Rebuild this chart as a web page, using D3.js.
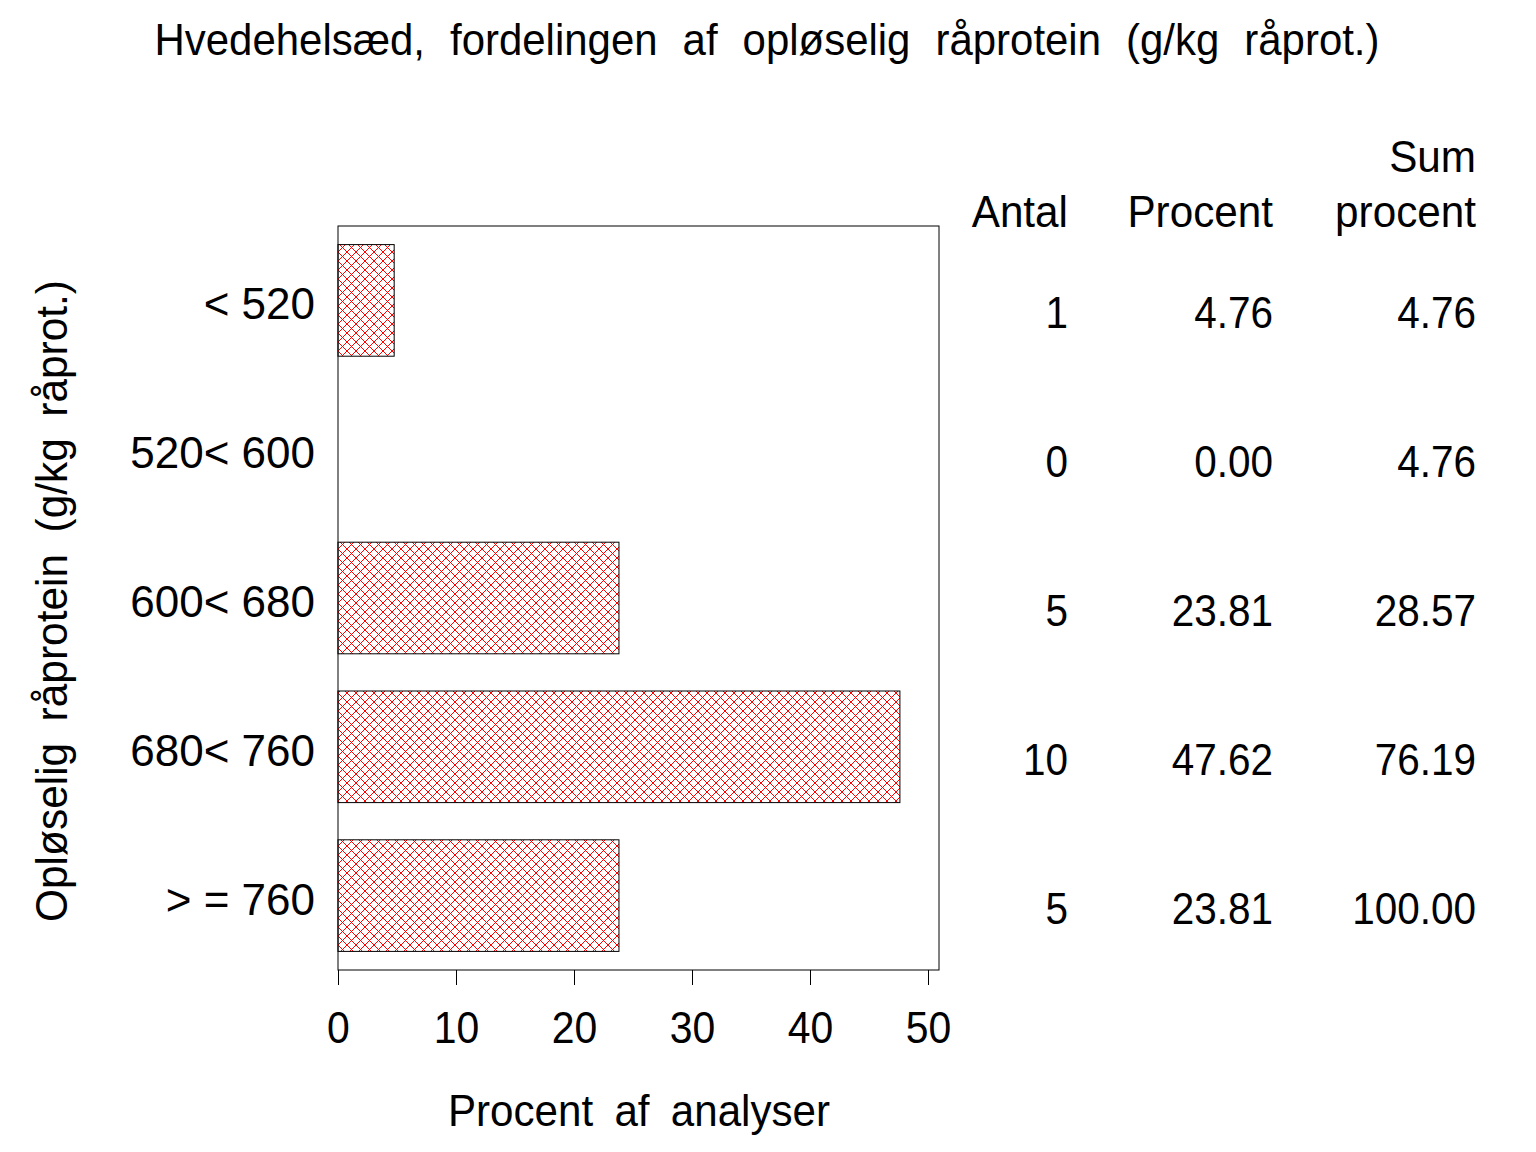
<!DOCTYPE html>
<html>
<head>
<meta charset="utf-8">
<script src="https://cdn.jsdelivr.net/npm/d3@7"></script>
<style>
	body { margin: 0; background: #fff; }
	text { font-family: "Liberation Sans", Arial, sans-serif; fill: #000; }
</style>
</head>
<body>
<svg id="chart" width="1536" height="1152"></svg>
<script>
var categories = ["< 520", "520< 600", "600< 680", "680< 760", "> = 760"];
var percent = [4.76, 0.00, 23.81, 47.62, 23.81];
var counts = [1, 0, 5, 10, 5];
var cumPercent = [4.76, 4.76, 28.57, 76.19, 100.00];
var xTicks = [0, 10, 20, 30, 40, 50];
var tableHeads = [["", "Antal"], ["", "Procent"], ["Sum", "procent"]];

var svg = d3.select("#chart");
var frame = {left: 338, right: 939, top: 226, bottom: 970};
var fontSize = 44;

// squeeze text a little, the SAS font is narrower than Arial
var squeeze = function(sel, k) {
	sel.each(function() {
		var len = this.getComputedTextLength();
		d3.select(this)
			.attr("textLength", len * k)
			.attr("lengthAdjust", "spacingAndGlyphs");
	});
};

// hatch fill, red crossed diagonals
var defs = svg.append("defs");
var pat = defs.append("pattern")
	.attr("id", "hatch")
	.attr("patternUnits", "userSpaceOnUse")
	.attr("width", 9).attr("height", 9)
	.attr("x", frame.left).attr("y", 0);
pat.append("path")
	.attr("d", "M0,0L9,9M0,9L9,0")
	.attr("stroke", "#ff0000")
	.attr("stroke-width", 1)
	.attr("fill", "none");

var x = d3.scaleLinear().domain([0, 50]).range([frame.left, 928]);
var y = d3.scaleBand().domain(categories)
	.range([frame.top, frame.bottom])
	.paddingInner(0.25).paddingOuter(0.125);

var rows = categories.map(function(c, i) {
	return {cat: c, pct: percent[i], n: counts[i], cum: cumPercent[i]};
});

// title
svg.append("text")
	.attr("x", 767).attr("y", 55)
	.attr("text-anchor", "middle")
	.attr("font-size", fontSize)
	.attr("word-spacing", 14)
	.attr("textLength", 1225)
	.attr("lengthAdjust", "spacingAndGlyphs")
	.text("Hvedehelsæd, fordelingen af opløselig råprotein (g/kg råprot.)");

// frame
svg.append("rect")
	.attr("x", frame.left).attr("y", frame.top)
	.attr("width", frame.right - frame.left)
	.attr("height", frame.bottom - frame.top)
	.attr("fill", "none").attr("stroke", "#000").attr("stroke-width", 1);

// bars
svg.selectAll("rect.bar")
	.data(rows.filter(function(d) { return d.pct > 0; }))
	.enter()
	.append("rect")
	.classed("bar", true)
	.attr("x", x(0))
	.attr("y", function(d) { return y(d.cat); })
	.attr("width", function(d) { return x(d.pct) - x(0); })
	.attr("height", y.bandwidth())
	.attr("fill", "url(#hatch)")
	.attr("stroke", "#000").attr("stroke-width", 1);

// x axis
var xAxis = svg.append("g")
	.attr("transform", "translate(0," + frame.bottom + ")")
	.call(d3.axisBottom(x).tickValues(xTicks).tickSize(15).tickSizeOuter(0).tickPadding(27));
xAxis.select(".domain").remove();
xAxis.selectAll("line").attr("stroke", "#000");
xAxis.selectAll("text")
	.attr("font-size", fontSize)
	.attr("font-family", "Liberation Sans, Arial, sans-serif")
	.attr("fill", "#000")
	.call(squeeze, 0.93);

// y labels
svg.selectAll("text.ylab")
	.data(rows)
	.enter()
	.append("text")
	.classed("ylab", true)
	.attr("x", 315)
	.attr("y", function(d) { return y(d.cat) + y.bandwidth() / 2 + 19; })
	.attr("text-anchor", "end")
	.attr("font-size", fontSize)
	.style("white-space", "pre")
	.text(function(d) { return d.cat; });

// axis titles
svg.append("text")
	.attr("x", 639).attr("y", 1126)
	.attr("text-anchor", "middle")
	.attr("font-size", fontSize)
	.attr("word-spacing", 10)
	.attr("textLength", 382)
	.attr("lengthAdjust", "spacingAndGlyphs")
	.text("Procent af analyser");

svg.append("text")
	.attr("transform", "translate(67," + ((frame.top + frame.bottom) / 2 + 3) + ") rotate(-90)")
	.attr("text-anchor", "middle")
	.attr("font-size", fontSize)
	.attr("word-spacing", 10)
	.attr("textLength", 642)
	.attr("lengthAdjust", "spacingAndGlyphs")
	.text("Opløselig råprotein (g/kg råprot.)");

// table
var colX = [1068, 1273, 1476];
var cols = [
	function(d) { return String(d.n); },
	function(d) { return d.pct.toFixed(2); },
	function(d) { return d.cum.toFixed(2); }
];

tableHeads.forEach(function(h, c) {
	svg.append("text")
		.attr("x", colX[c]).attr("y", 172)
		.attr("text-anchor", "end").attr("font-size", fontSize)
		.text(h[0])
		.call(squeeze, 0.96);
	svg.append("text")
		.attr("x", colX[c]).attr("y", 227)
		.attr("text-anchor", "end").attr("font-size", fontSize)
		.text(h[1])
		.call(squeeze, 0.96);
	svg.selectAll("text.col" + c)
		.data(rows)
		.enter()
		.append("text")
		.classed("col" + c, true)
		.attr("x", colX[c])
		.attr("y", function(d) { return y(d.cat) + y.bandwidth() / 2 + 28; })
		.attr("text-anchor", "end")
		.attr("font-size", fontSize)
		.text(cols[c])
		.call(squeeze, 0.92);
});
</script>
</body>
</html>
